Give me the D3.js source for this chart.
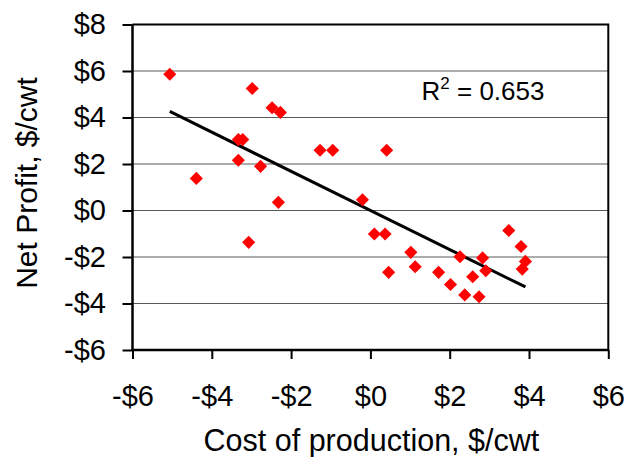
<!DOCTYPE html>
<html>
<head>
<meta charset="utf-8">
<script src="https://cdn.jsdelivr.net/npm/d3@7"></script>
<style>
	html, body { margin: 0; padding: 0; background: #fff; }
	text { font-family: "Liberation Sans", Arial, sans-serif; fill: #000; }
</style>
</head>
<body>
<svg id="chart" width="637" height="457"></svg>
<script>
// cost of production ($/cwt) vs net profit ($/cwt), one point per farm
var costValues = [-5.06, -2.98, -2.48, -2.27, -3.33, -3.22, -3.33, -2.77, -4.39, -1.27, -0.95, 0.41,
	-2.32, -3.07, -0.20, 0.10, 0.37, 0.46, 1.02, 1.13, 1.72, 2.02, 2.26, 2.38,
	2.58, 2.74, 2.83, 2.91, 3.49, 3.80, 3.91, 3.83];
var profitValues = [5.86, 5.25, 4.42, 4.22, 3.05, 3.05, 2.16, 1.90, 1.38, 2.59, 2.59, 2.59,
	0.35, -1.37, 0.46, -1.01, -1.01, -2.66, -1.80, -2.42, -2.66, -3.18, -1.99, -3.63,
	-2.85, -3.71, -2.04, -2.59, -0.86, -1.55, -2.19, -2.52];
var xTicks = [-6, -4, -2, 0, 2, 4, 6];
var yTicks = [-6, -4, -2, 0, 2, 4, 6, 8];
var rSquaredLabel = '0.653';

(function() {
	'use strict';

	var svg = d3.select('#chart');

	var plot = { left: 132.5, right: 608.3, top: 24.5, bottom: 350 };

	var xScale = d3.scaleLinear().domain([-6, 6]).range([plot.left, plot.right]);
	var yScale = d3.scaleLinear().domain([-6, 8]).range([plot.bottom, plot.top]);

	var money = function(d) {
		return (d < 0 ? '-$' : '$') + Math.abs(d);
	};

	var points = costValues.map(function(x, i) {
		return { x: x, y: profitValues[i] };
	});

	// gridlines
	svg.append('g')
		.selectAll('line')
		.data(yTicks.filter(function(d) { return d > -6 && d < 8; }))
		.enter()
		.append('line')
		.attr('x1', plot.left)
		.attr('x2', plot.right)
		.attr('y1', function(d) { return yScale(d); })
		.attr('y2', function(d) { return yScale(d); })
		.attr('stroke', '#5a5a5a')
		.attr('stroke-width', 1.2);

	// top and right border
	svg.append('path')
		.attr('d', 'M' + plot.left + ',' + plot.top + 'H' + plot.right + 'V' + plot.bottom)
		.attr('fill', 'none')
		.attr('stroke', '#000')
		.attr('stroke-width', 2);

	// axes
	var xAxis = d3.axisBottom(xScale).tickValues(xTicks).tickSize(9).tickFormat(money);
	var yAxis = d3.axisLeft(yScale).tickValues(yTicks).tickSize(10).tickPadding(16.5).tickFormat(money);

	var gx = svg.append('g')
		.attr('transform', 'translate(0,' + plot.bottom + ')')
		.call(xAxis);
	var gy = svg.append('g')
		.attr('transform', 'translate(' + plot.left + ',0)')
		.call(yAxis);

	[gx, gy].forEach(function(g) {
		g.select('.domain').remove();
		g.selectAll('.tick line').attr('stroke', '#000').attr('stroke-width', 2);
		g.selectAll('.tick text')
			.attr('font-family', '"Liberation Sans", Arial, sans-serif')
			.attr('font-size', 29)
			.attr('fill', '#000');
	});
	gx.selectAll('.tick text').attr('y', 35.5).attr('dy', '0.71em');

	svg.append('line')
		.attr('x1', plot.left).attr('x2', plot.right)
		.attr('y1', plot.bottom).attr('y2', plot.bottom)
		.attr('stroke', '#000').attr('stroke-width', 2.5);
	svg.append('line')
		.attr('x1', plot.left).attr('x2', plot.left)
		.attr('y1', plot.top).attr('y2', plot.bottom)
		.attr('stroke', '#000').attr('stroke-width', 2.5);

	// least squares trend line
	var mx = d3.mean(costValues),
		my = d3.mean(profitValues),
		sxy = d3.sum(points, function(p) { return (p.x - mx) * (p.y - my); }),
		sxx = d3.sum(points, function(p) { return (p.x - mx) * (p.x - mx); }),
		slope = sxy / sxx,
		intercept = my - slope * mx,
		xExtent = d3.extent(costValues);

	svg.append('line')
		.attr('x1', xScale(xExtent[0]))
		.attr('y1', yScale(intercept + slope * xExtent[0]))
		.attr('x2', xScale(xExtent[1]))
		.attr('y2', yScale(intercept + slope * xExtent[1]))
		.attr('stroke', '#000')
		.attr('stroke-width', 3);

	// markers: red diamonds
	var diamond = d3.symbol().type(d3.symbolSquare).size(86);
	svg.append('g')
		.selectAll('path')
		.data(points)
		.enter()
		.append('path')
		.attr('d', diamond)
		.attr('transform', function(d) {
			return 'translate(' + xScale(d.x) + ',' + yScale(d.y) + ') rotate(45)';
		})
		.attr('fill', '#ff0000');

	// R squared label
	var rText = svg.append('text')
		.attr('x', 421.5)
		.attr('y', 99.5)
		.attr('font-size', 26);
	rText.append('tspan').text('R');
	rText.append('tspan').attr('font-size', 17).attr('dy', -11).text('2');
	rText.append('tspan').attr('dy', 11).text(' = ' + rSquaredLabel);

	// axis titles
	svg.append('text')
		.attr('x', (plot.left + plot.right) / 2 + 1)
		.attr('y', 451)
		.attr('text-anchor', 'middle')
		.attr('font-size', 30.5)
		.text('Cost of production, $/cwt');

	svg.append('text')
		.attr('transform', 'translate(37,183) rotate(-90)')
		.attr('text-anchor', 'middle')
		.attr('font-size', 30)
		.text('Net Profit, $/cwt');
})();
</script>
</body>
</html>
